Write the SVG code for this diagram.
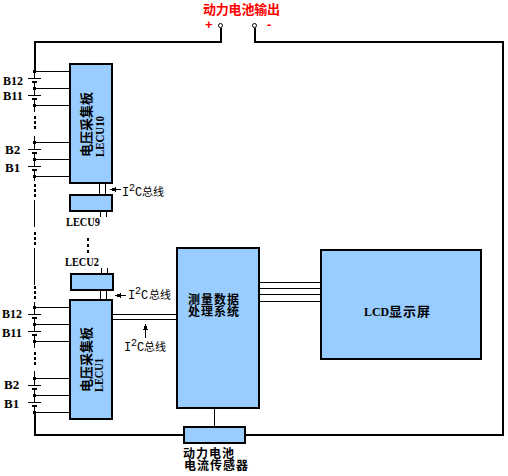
<svg xmlns="http://www.w3.org/2000/svg" width="508" height="476" viewBox="0 0 508 476">
<style>
.box{fill:#99ccff;stroke:#000;stroke-width:2}
.w{fill:none;stroke:#000;stroke-width:1}
.t{fill:none;stroke:#000;stroke-width:2}
.dot{fill:#000}
.cn{font-family:"Noto Sans CJK SC",sans-serif;font-weight:700;font-size:12px;letter-spacing:1px;fill:#000}
.big{font-family:"Noto Sans CJK SC",sans-serif;font-weight:700;font-size:13px;fill:#000}
.lat{font-family:"Liberation Serif",serif;font-weight:700;font-size:13px;fill:#000}
.thin{font-family:"Noto Sans CJK SC",sans-serif;font-size:11px;fill:#000}
.mono{font-family:"Liberation Mono",monospace;font-size:12px}
.sup{font-family:"Liberation Mono",monospace;font-size:10px}
.pm{font-family:"Liberation Sans",sans-serif;font-weight:700;font-size:13px;fill:#ff0000}
.red{fill:#ff0000}
</style>
<rect width="508" height="476" fill="#fff"/>
<g id="connectors" shape-rendering="crispEdges">
<path class="t" d="M220.500 28V42H35V71M254.500 28V42H503V434.500H35V412"/>
<path class="w" d="M34.500 71H70M34.500 88H70M34.500 105H70M34.500 142H70M34.500 159H70M34.500 176H70"/>
<path class="w" d="M34.500 71V78M34.500 82V95M34.500 99V112M34.500 136V149M34.500 153V166M34.500 170V181M34.500 200V227M34.500 248V285M34.500 302V314"/>
<path class="w" d="M34.500 307H70M34.500 324H70M34.500 341H70M34.500 378H70M34.500 395H70M34.500 412H70"/>
<path class="w" d="M34.500 318V331M34.500 335V348M34.500 371V385M34.500 389V402M34.500 406V412"/>
<path class="w" d="M28 78.500H41M28 95.500H41M28 149.500H41M28 166.500H41M28 314.500H41M28 331.500H41M28 385.500H41M28 402.500H41"/>
<path d="M32 82H37M32 99H37M32 153H37M32 170H37M32 318H37M32 335H37M32 389H37M32 406H37" stroke="#000" stroke-width="2" fill="none"/>
<path class="dot" d="M33 70h3v3h-3zM33 87h3v3h-3zM33 104h3v3h-3zM33 141h3v3h-3zM33 158h3v3h-3zM33 175h3v3h-3zM33 306h3v3h-3zM33 323h3v3h-3zM33 340h3v3h-3zM33 377h3v3h-3zM33 394h3v3h-3zM33 411h3v3h-3z"/>
<path class="dot" d="M34 116h2v3h-2zM34 121h2v3h-2zM34 126h2v3h-2zM34 184h2v3h-2zM34 189h2v3h-2zM34 194h2v3h-2zM34 232h2v3h-2zM34 237h2v3h-2zM34 242h2v3h-2zM34 286h2v3h-2zM34 291h2v3h-2zM34 296h2v3h-2zM34 352h2v3h-2zM34 357h2v3h-2zM34 362h2v3h-2zM87 238h2v3h-2zM87 244h2v3h-2zM87 250h2v3h-2z"/>
<path class="w" d="M99.500 183V195M105.500 183V195M100.500 211V217M106.500 211V217M101.500 268V274M107.500 268V274M100.500 290V300M106.500 290V300"/>
<path class="w" d="M112 314.500H177M112 319.500H177"/>
<path class="w" d="M259 282.500H321M259 288.500H321M259 294.500H321M259 301.500H321"/>
<path class="w" d="M214.500 408V427"/>
<path class="w" d="M115 189.500H121M120 295.500H126M145.500 330V338"/>
<path class="dot" d="M110 189.500L116 187V192ZM115 295.500L121 293V298ZM145.500 324L143 330H148Z"/>
</g>
<circle cx="220.500" cy="25.500" r="2" fill="#fff" stroke="#000"/>
<circle cx="254.500" cy="25.500" r="2" fill="#fff" stroke="#000"/>
<g id="lecu10"><rect class="box" x="70" y="64" width="42" height="119"/>
<text class="big" transform="translate(91,157) rotate(-90)">电压采集板</text>
<text class="lat" transform="translate(104,157) rotate(-90)" textLength="41" lengthAdjust="spacingAndGlyphs">LECU10</text></g>
<g id="lecu9"><rect class="box" x="70" y="195" width="42" height="16"/><text class="lat" x="66" y="226" textLength="34" lengthAdjust="spacingAndGlyphs">LECU9</text></g>
<g id="lecu2"><rect class="box" x="71" y="274" width="42" height="16"/><text class="lat" x="65" y="266" textLength="34" lengthAdjust="spacingAndGlyphs">LECU2</text></g>
<g id="lecu1"><rect class="box" x="70" y="300" width="42" height="119"/>
<text class="big" transform="translate(91,392) rotate(-90)">电压采集板</text>
<text class="lat" transform="translate(103,392) rotate(-90)" textLength="34" lengthAdjust="spacingAndGlyphs">LECU1</text></g>
<g id="proc"><rect class="box" x="177" y="248" width="82" height="160"/>
<text class="cn"><tspan x="188" y="304">测量数据</tspan><tspan x="188" y="316">处理系统</tspan></text></g>
<g id="lcd"><rect class="box" x="321" y="250" width="160" height="109"/>
<text class="lat" x="364" y="316" textLength="25" lengthAdjust="spacingAndGlyphs">LCD</text><text class="big" x="389" y="316" letter-spacing="1">显示屏</text></g>
<g id="sensor"><rect class="box" x="184" y="427" width="61" height="16"/>
<text class="cn"><tspan x="183" y="458">动力电池</tspan><tspan x="184" y="470">电流传感器</tspan></text></g>
<g id="labels">
<text class="big red" x="203" y="14" textLength="77">动力电池输出</text>
<text class="pm" x="205" y="29">+</text><text class="pm" x="267" y="29">-</text>
<text class="lat" x="3" y="85" textLength="20" lengthAdjust="spacingAndGlyphs">B12</text><text class="lat" x="3" y="100" textLength="20" lengthAdjust="spacingAndGlyphs">B11</text><text class="lat" x="5" y="154">B2</text><text class="lat" x="5" y="172">B1</text>
<text class="lat" x="2" y="318" textLength="20" lengthAdjust="spacingAndGlyphs">B12</text><text class="lat" x="2" y="337" textLength="20" lengthAdjust="spacingAndGlyphs">B11</text><text class="lat" x="4" y="389">B2</text><text class="lat" x="4" y="408">B1</text>
<text class="thin" y="196"><tspan class="mono" x="122">I</tspan><tspan class="sup" x="129" dy="-5">2</tspan><tspan class="mono" x="135" dy="5">C</tspan><tspan x="142">总线</tspan></text>
<text class="thin" y="299"><tspan class="mono" x="128">I</tspan><tspan class="sup" x="135" dy="-5">2</tspan><tspan class="mono" x="141" dy="5">C</tspan><tspan x="149">总线</tspan></text>
<text class="thin" y="351"><tspan class="mono" x="124">I</tspan><tspan class="sup" x="131" dy="-5">2</tspan><tspan class="mono" x="137" dy="5">C</tspan><tspan x="144">总线</tspan></text>
</g>
</svg>
